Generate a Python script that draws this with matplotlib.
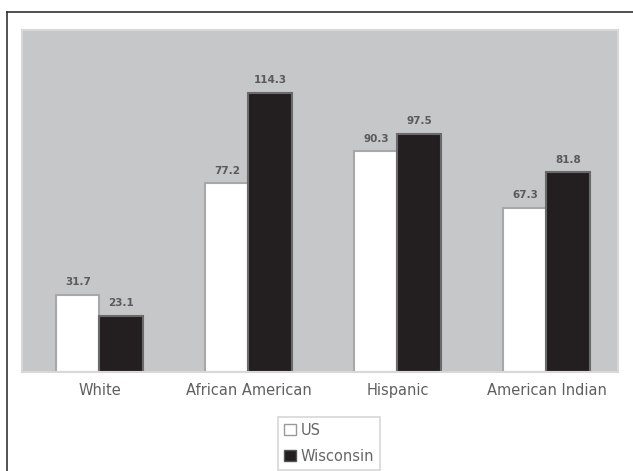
import matplotlib
matplotlib.use("Agg")
import matplotlib.pyplot as plt
from matplotlib.lines import Line2D
from matplotlib.patches import Patch
import numpy as np

categories = ["White", "African American", "Hispanic", "American Indian"]
us_values = [31.7, 77.2, 90.3, 67.3]
wi_values = [23.1, 114.3, 97.5, 81.8]
series_names = ["US", "Wisconsin"]

plt.rcParams['font.family'] = ['DejaVu Sans']

fig = plt.figure(figsize=(6.33, 4.71), dpi=100)
ax = fig.add_axes([22/633, 1-372/471, (618-22)/633, (372-30)/471])
ax.set_facecolor("#c6c7c9")

x = np.arange(len(categories))
w = 0.29
b1 = ax.bar(x - w/2, us_values, w, color="white", edgecolor="#a8a8a8", linewidth=1.5, label=series_names[0])
b2 = ax.bar(x + w/2, wi_values, w, color="#231f20", edgecolor="#6a6a6a", linewidth=1.5, label=series_names[1])

for bars, vals in ((b1, us_values), (b2, wi_values)):
    for r, v in zip(bars, vals):
        ax.text(r.get_x() + r.get_width()/2, v + 3.0, f"{v:.1f}", ha="center", va="bottom",
                fontsize=7.5, fontweight="bold", color="#5a5a5a")

ax.set_xlim(-0.52, len(categories) - 0.52)
ax.set_ylim(0, 140)
ax.set_yticks([])
ax.set_xticks(x)
ax.set_xticklabels(categories, fontsize=10.5, color="#606060")
ax.tick_params(axis="x", length=0, pad=8)
for s in ax.spines.values():
    s.set_color("#d8d8d8")
    s.set_linewidth(1.5)

leg = fig.legend(handles=[Patch(facecolor="white", edgecolor="#999999", label="US"),
                          Patch(facecolor="#231f20", edgecolor="#555555", label="Wisconsin")],
                 loc="upper center", bbox_to_anchor=(329/633, 1-417/471), ncol=1,
                 fontsize=10.5, frameon=True, fancybox=False, handlelength=0.8, handleheight=0.8,
                 handletextpad=0.3, borderpad=0.4, labelspacing=0.75, borderaxespad=0)
for t in leg.get_texts():
    t.set_color("#666666")
leg.get_frame().set_edgecolor("#cccccc")
leg.get_frame().set_linewidth(1.2)

fig.add_artist(Line2D([7/633, 7/633], [0, 1-12/471], color="#333333", linewidth=1.2, transform=fig.transFigure))
fig.add_artist(Line2D([7/633, 1], [1-12/471, 1-12/471], color="#333333", linewidth=1.2, transform=fig.transFigure))

fig.savefig("out.png", dpi=100)
